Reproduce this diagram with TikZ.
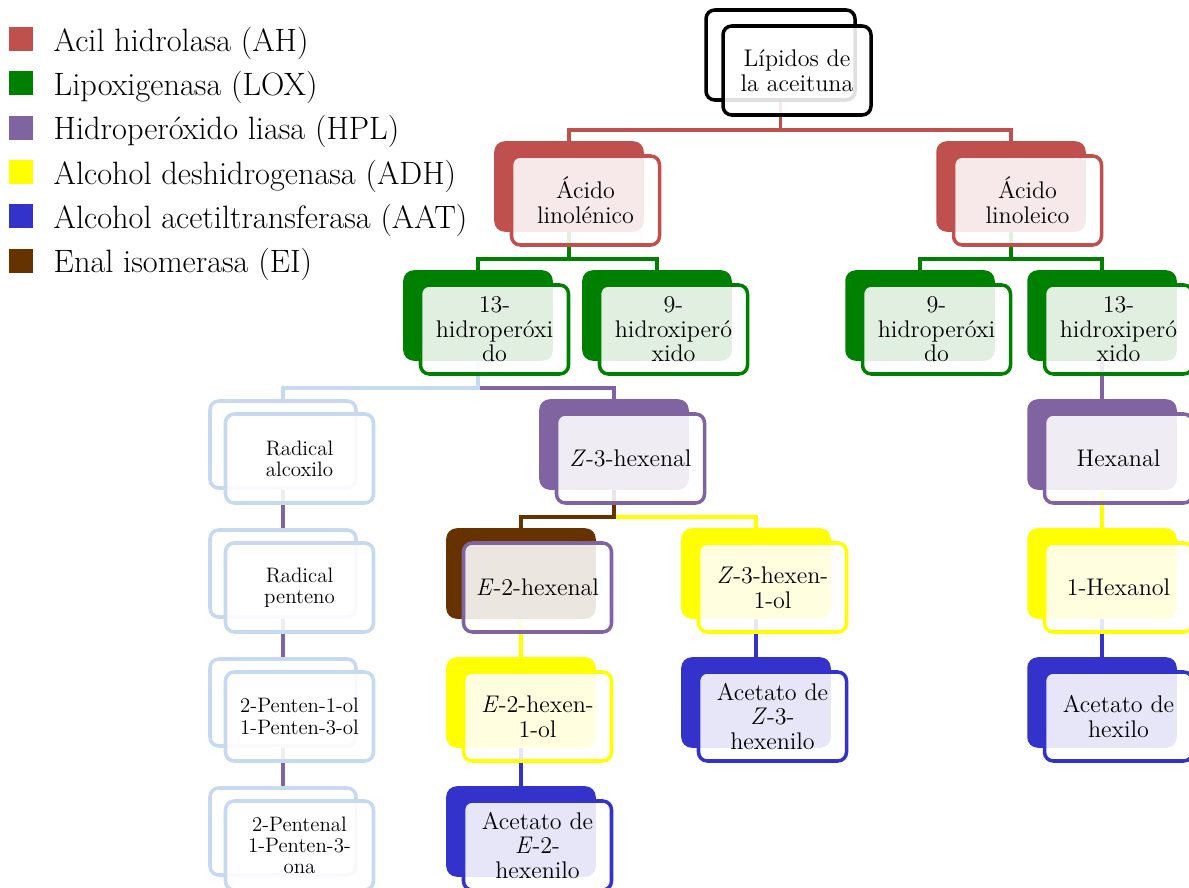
\documentclass[tikz,border=0pt]{standalone}
\usepackage{tikz}
\usetikzlibrary{positioning,backgrounds}
\definecolor{ah}{RGB}{192,80,77}
\definecolor{lox}{RGB}{0,128,0}
\definecolor{hpl}{RGB}{128,100,162}
\definecolor{adh}{RGB}{255,255,0}
\definecolor{aat}{RGB}{51,51,204}
\definecolor{ei}{RGB}{102,51,0}
\definecolor{radical}{RGB}{198,217,241}

\begin{document}
\begin{tikzpicture}[
  font=\fontsize{13.7}{14}\selectfont,
  rear/.style={draw=#1, fill=#1, line width=2pt, rounded corners=5pt, minimum width=2.92cm, minimum height=1.74cm},
  face/.style={draw=#1, fill=white, fill opacity=0.88, text opacity=1, line width=2pt, rounded corners=5pt, minimum width=2.96cm, minimum height=1.78cm, align=center, inner sep=2pt, anchor=north west},
  small/.style={font=\fontsize{11.9}{12}\selectfont},
  swatch/.style={fill=#1, minimum size=0.48cm, inner sep=0pt},
  keytext/.style={font=\fontsize{18.4}{20}\selectfont, inner sep=0pt, anchor=base west},
  link/.style={line width=2pt}
]
\useasboundingbox (0,0) rectangle (23.78,-17.76);

% legend
\node[swatch=ah] (sAH) at (0.42,-0.78) {};
\node[swatch=lox, below=0.392cm of sAH] (sLOX) {};
\node[swatch=hpl, below=0.392cm of sLOX] (sHPL) {};
\node[swatch=adh, below=0.392cm of sHPL] (sADH) {};
\node[swatch=aat, below=0.392cm of sADH] (sAAT) {};
\node[swatch=ei, below=0.392cm of sAAT] (sEI) {};
\node[keytext] (tAH) at ([xshift=0.4cm]sAH.south east) {Acil hidrolasa (AH)};
\node[keytext] (tLOX) at ([xshift=0.4cm]sLOX.south east) {Lipoxigenasa (LOX)};
\node[keytext] (tHPL) at ([xshift=0.4cm]sHPL.south east) {Hidroperóxido liasa (HPL)};
\node[keytext] (tADH) at ([xshift=0.4cm]sADH.south east) {Alcohol deshidrogenasa (ADH)};
\node[keytext] (tAAT) at ([xshift=0.4cm]sAAT.south east) {Alcohol acetiltransferasa (AAT)};
\node[keytext] (tEI) at ([xshift=0.4cm]sEI.south east) {Enal isomerasa (EI)};

% top
\node[rear=white, draw=black, minimum width=2.98cm, minimum height=1.8cm] (lipB) at (15.61,-1.10) {};
\node[face=black] (lip) at ([shift={(0.34,-0.32)}]lipB.north west) {Lípidos de\\la aceituna};

% acids
\node[rear=ah] (linnB) at (11.38,-3.73) {};
\node[face=ah] (linn) at ([shift={(0.31,-0.26)}]linnB.north west) {Ácido\\linolénico};
\node[rear=ah] (lileB) at (20.22,-3.73) {};
\node[face=ah] (lile) at ([shift={(0.31,-0.26)}]lileB.north west) {Ácido\\linoleico};

% hydroperoxides
\node[rear=lox] (h13aB) at (9.56,-6.31) {};
\node[face=lox] (h13a) at ([shift={(0.31,-0.26)}]h13aB.north west) {13-\\hidroperóxi\\do};
\node[rear=lox] (h9aB) at (13.14,-6.31) {};
\node[face=lox] (h9a) at ([shift={(0.31,-0.26)}]h9aB.north west) {9-\\hidroxiperó\\xido};
\node[rear=lox] (h9bB) at (18.40,-6.31) {};
\node[face=lox] (h9b) at ([shift={(0.31,-0.26)}]h9bB.north west) {9-\\hidroperóxi\\do};
\node[rear=lox] (h13bB) at (22.04,-6.31) {};
\node[face=lox] (h13b) at ([shift={(0.31,-0.26)}]h13bB.north west) {13-\\hidroxiperó\\xido};

% row 3
\node[rear=white, draw=radical] (radaB) at (5.66,-8.89) {};
\node[face=radical, small] (rada) at ([shift={(0.31,-0.26)}]radaB.north west) {Radical\\alcoxilo};
\node[rear=hpl] (z3hB) at (12.28,-8.89) {};
\node[face=hpl] (z3h) at ([shift={(0.31,-0.26)}]z3hB.north west) {\textit{Z}-3-hexenal};
\node[rear=hpl] (hexB) at (22.04,-8.89) {};
\node[face=hpl] (hex) at ([shift={(0.31,-0.26)}]hexB.north west) {Hexanal};

% row 4
\node[rear=white, draw=radical] (radpB) at (5.66,-11.47) {};
\node[face=radical, small] (radp) at ([shift={(0.31,-0.26)}]radpB.north west) {Radical\\penteno};
\node[rear=ei] (e2hB) at (10.42,-11.47) {};
\node[face=hpl] (e2h) at ([shift={(0.31,-0.26)}]e2hB.north west) {\textit{E}-2-hexenal};
\node[rear=adh] (z3olB) at (15.12,-11.47) {};
\node[face=adh] (z3ol) at ([shift={(0.31,-0.26)}]z3olB.north west) {\textit{Z}-3-hexen-\\1-ol};
\node[rear=adh] (hexolB) at (22.04,-11.47) {};
\node[face=adh] (hexol) at ([shift={(0.31,-0.26)}]hexolB.north west) {1-Hexanol};

% row 5
\node[rear=white, draw=radical] (penolB) at (5.66,-14.05) {};
\node[face=radical, small] (penol) at ([shift={(0.31,-0.26)}]penolB.north west) {2-Penten-1-ol\\1-Penten-3-ol};
\node[rear=adh] (e2olB) at (10.42,-14.05) {};
\node[face=adh] (e2ol) at ([shift={(0.31,-0.26)}]e2olB.north west) {\textit{E}-2-hexen-\\1-ol};
\node[rear=aat] (acZB) at (15.12,-14.05) {};
\node[face=aat] (acZ) at ([shift={(0.31,-0.26)}]acZB.north west) {Acetato de\\\textit{Z}-3-\\hexenilo};
\node[rear=aat] (achexB) at (22.04,-14.05) {};
\node[face=aat] (achex) at ([shift={(0.31,-0.26)}]achexB.north west) {Acetato de\\hexilo};

% row 6
\node[rear=white, draw=radical] (penalB) at (5.66,-16.63) {};
\node[face=radical, small] (penal) at ([shift={(0.31,-0.26)}]penalB.north west) {2-Pentenal\\1-Penten-3-\\ona};
\node[rear=aat] (acEB) at (10.42,-16.63) {};
\node[face=aat] (acE) at ([shift={(0.31,-0.26)}]acEB.north west) {Acetato de\\\textit{E}-2-\\hexenilo};

% connectors behind the boxes
\begin{pgfonlayer}{background}
\draw[link, ah] (lipB.south) -- ++(0,-0.56) -| (linnB.north);
\draw[link, ah] (lipB.south) -- ++(0,-0.56) -| (lileB.north);
\draw[link, lox] (linnB.south) -- ++(0,-0.54) -| (h13aB.north);
\draw[link, lox] (linnB.south) -- ++(0,-0.54) -| (h9aB.north);
\draw[link, lox] (lileB.south) -- ++(0,-0.54) -| (h9bB.north);
\draw[link, lox] (lileB.south) -- ++(0,-0.54) -| (h13bB.north);
\draw[link, hpl] (h13aB.south) -- ++(0,-0.54) -| (z3hB.north);
\draw[link, radical] (h13aB.south) -- ++(0,-0.54) -| (radaB.north);
\draw[link, hpl] (radaB) -- (radpB);
\draw[link, hpl] (radpB) -- (penolB);
\draw[link, hpl] (penolB) -- (penalB);
\draw[link, hpl] (h13bB) -- (hexB);
\draw[link, adh] (z3hB.south) -- ++(0,-0.54) -| (z3olB.north);
\draw[link, ei] (z3hB.south) -- ++(0,-0.54) -| (e2hB.north);
\draw[link, adh] (e2hB) -- (e2olB);
\draw[link, adh] (hexB) -- (hexolB);
\draw[link, aat] (e2olB) -- (acEB);
\draw[link, aat] (z3olB) -- (acZB);
\draw[link, aat] (hexolB) -- (achexB);
\end{pgfonlayer}
\end{tikzpicture}
\end{document}
